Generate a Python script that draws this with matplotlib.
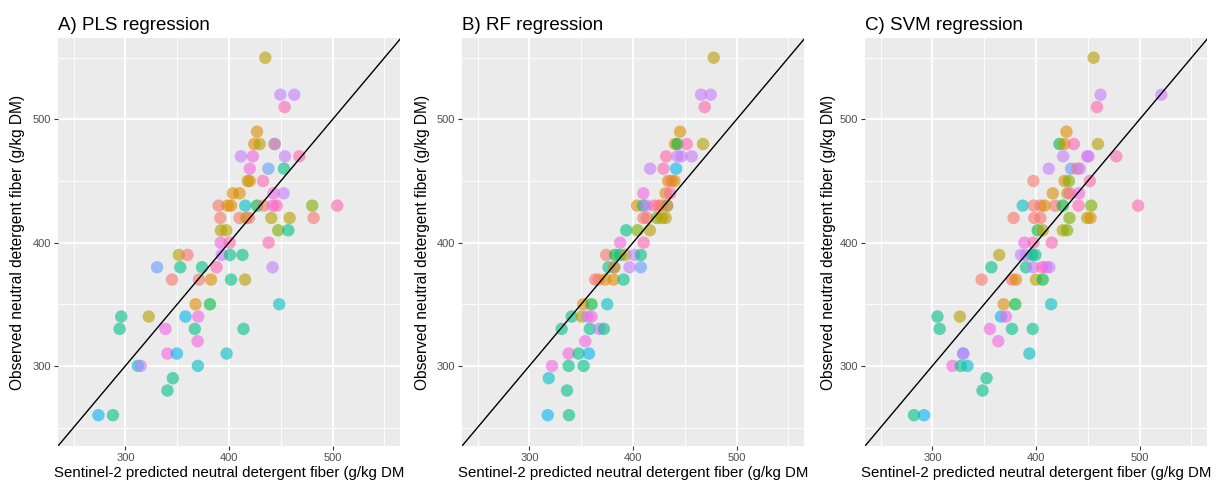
import matplotlib
matplotlib.use("Agg")
import matplotlib.pyplot as plt
from matplotlib.ticker import MultipleLocator

plt.rcParams['font.family'] = ['Liberation Sans', 'DejaVu Sans']

# ggplot hue palette, 12 groups
palette = ['#F8766D', '#DE8C00', '#B79F00', '#7CAE00', '#00BA38', '#00C08B',
           '#00BFC4', '#00B4F0', '#619CFF', '#C77CFF', '#F564E3', '#FF64B0']

titles = ['A) PLS regression', 'B) RF regression', 'C) SVM regression']
xlabel = 'Sentinel-2 predicted neutral detergent fiber (g/kg DM'
ylabel = 'Observed neutral detergent fiber (g/kg DM)'

# ---- A) PLS ----
pls_pred = [435,
            449.5, 463,
            453.7,
            427,
            424.4, 429.6, 444, 444,
            411.5, 423, 454, 467.8,
            420, 438, 453,
            418, 420, 432.8,
            403.8, 410.2, 443, 452.7,
            390, 398.7, 402, 415.7, 427, 433.4, 442.4, 446, 480.3, 504.4,
            391.6, 410.2, 416.7, 419.2, 440.8, 458.5, 481.6,
            392.2, 397.4, 447.5, 457.2,
            392, 400.6, 438.2,
            351.6, 360, 393, 401, 413,
            330.6, 353, 374, 388, 442,
            345, 371, 382.6, 402, 415.5,
            367.7, 381.6, 448.4,
            296, 322.6, 358, 370.3,
            294.5, 338.7, 367, 414,
            369.7,
            340.6, 349.7, 397.7,
            312, 314.8, 370,
            345.8,
            340.6,
            274, 288]
pls_obs = [550,
           520, 520,
           510,
           490,
           480, 480, 480, 480,
           470, 470, 470, 470,
           460, 460, 460,
           450, 450, 450,
           440, 440, 440, 440,
           430, 430, 430, 430, 430, 430, 430, 430, 430, 430,
           420, 420, 420, 420, 420, 420, 420,
           410, 410, 410, 410,
           400, 400, 400,
           390, 390, 390, 390, 390,
           380, 380, 380, 380, 380,
           370, 370, 370, 370, 370,
           350, 350, 350,
           340, 340, 340, 340,
           330, 330, 330, 330,
           320,
           310, 310, 310,
           300, 300, 300,
           290,
           280,
           260, 260]
pls_group = [2,
             9, 9,
             11,
             1,
             1, 2, 2, 9,
             9, 10, 9, 11,
             10, 8, 5,
             2, 1, 11,
             1, 1, 10, 9,
             0, 1, 1, 6, 4, 0, 10, 11, 3, 11,
             0, 0, 2, 0, 2, 2, 0,
             2, 2, 3, 5,
             10, 11, 11,
             2, 0, 9, 5, 5,
             8, 5, 5, 11, 9,
             0, 0, 1, 5, 2,
             1, 4, 6,
             5, 2, 7, 10,
             5, 10, 5, 5,
             10,
             10, 7, 6,
             6, 9, 6,
             5,
             5,
             7, 5]

# ---- B) RF ----
rf_pred = [477.9,
           465.7, 475,
           469.2,
           445.4,
           440.6, 442.9, 451.9, 467.6,
           432, 442.9, 446.8, 456.7,
           416.5, 429.4, 441.6,
           434, 437, 440,
           410, 431.5, 435.8,
           404, 409.8, 412.8, 420.5, 425, 428, 433, 433,
           410.1, 413.5, 423, 428, 431.5,
           393.5, 404.5, 416.3,
           387.6, 410.3,
           374.2, 382.8, 387.6, 392.5, 401.2, 407.6,
           376.4, 381.9, 381.9, 396.7, 407.6,
           363.5, 366.8, 373.2, 381.3, 390.9,
           352, 360, 375.1,
           340.8, 350.5, 356, 360,
           331.1, 358.4, 367.4, 371.9,
           353.9,
           337.9, 347.5, 357.5,
           321.9, 337.9, 352.3,
           318.7,
           336.3,
           317.7, 338.2]
rf_obs = [550,
          520, 520,
          510,
          490,
          480, 480, 480, 480,
          470, 470, 470, 470,
          460, 460, 460,
          450, 450, 450,
          440, 440, 440,
          430, 430, 430, 430, 430, 430, 430, 430,
          420, 420, 420, 420, 420,
          410, 410, 410,
          400, 400,
          390, 390, 390, 390, 390, 390,
          380, 380, 380, 380, 380,
          370, 370, 370, 370, 370,
          350, 350, 350,
          340, 340, 340, 340,
          330, 330, 330, 330,
          320,
          310, 310, 310,
          300, 300, 300,
          290,
          280,
          260, 260]
rf_group = [2,
            9, 9,
            11,
            1,
            1, 4, 11, 2,
            11, 9, 9, 9,
            9, 11, 7,
            1, 0, 1,
            10, 1, 11,
            1, 5, 9, 11, 0, 0, 9, 2,
            0, 0, 3, 2, 2,
            5, 3, 2,
            10, 11,
            0, 4, 5, 2, 9, 5,
            5, 9, 2, 9, 8,
            0, 0, 1, 1, 5,
            1, 4, 6,
            5, 2, 9, 10,
            5, 5, 9, 5,
            10,
            10, 5, 7,
            10, 5, 5,
            6,
            5,
            7, 5]

# ---- C) SVM ----
svm_pred = [455.6,
            462.3, 521,
            458.8,
            429.4,
            422.7, 427.5, 436.5, 459.8,
            426.2, 449.4, 450.7, 477.5,
            412.3, 433.9, 439.8, 442.3,
            397.5, 427.5, 431.7, 452,
            416.2, 430.3, 432.6, 441.5,
            387.2, 397.8, 404.3, 408.2, 418.5, 425.9, 441, 453.3, 498.5,
            378.4, 398.4, 404.3, 432.3, 449.4, 452.6,
            401.7, 406.5, 425.9, 430,
            388.8, 397.6, 415.2,
            364.5, 385.5, 390.3, 396.1, 399.4,
            357, 390.3, 397.4, 405.8, 409.7, 412.9,
            347.5, 376.8, 380.7, 400, 406.5,
            368.7, 380, 414.6,
            304.9, 326.5, 366.2, 371,
            307.1, 355.5, 376.8, 396.8,
            363.6,
            329.7, 329.7, 393.6,
            319.4, 327.5, 333.9,
            352.3,
            348.4,
            282.3, 292]
svm_obs = [550,
           520, 520,
           510,
           490,
           480, 480, 480, 480,
           470, 470, 470, 470,
           460, 460, 460, 460,
           450, 450, 450, 450,
           440, 440, 440, 440,
           430, 430, 430, 430, 430, 430, 430, 430, 430,
           420, 420, 420, 420, 420, 420,
           410, 410, 410, 410,
           400, 400, 400,
           390, 390, 390, 390, 390,
           380, 380, 380, 380, 380, 380,
           370, 370, 370, 370, 370,
           350, 350, 350,
           340, 340, 340, 340,
           330, 330, 330, 330,
           320,
           310, 310, 310,
           300, 300, 300,
           290,
           280,
           260, 260]
svm_group = [2,
             9, 9,
             11,
             1,
             4, 1, 11, 2,
             9, 10, 9, 11,
             9, 8, 0, 9,
             0, 1, 3, 11,
             1, 2, 11, 10,
             6, 0, 0, 1, 0, 4, 11, 3, 11,
             0, 0, 0, 3, 2, 1,
             4, 2, 2, 3,
             10, 11, 11,
             2, 9, 9, 5, 5,
             5, 5, 9, 11, 10, 9,
             0, 0, 1, 2, 4,
             1, 4, 6,
             5, 2, 7, 10,
             5, 10, 5, 5,
             10,
             8, 9, 6,
             10, 5, 6,
             5,
             5,
             5, 7]

panels = [(pls_pred, pls_obs, pls_group),
          (rf_pred, rf_obs, rf_group),
          (svm_pred, svm_obs, svm_group)]

fig = plt.figure(figsize=(12.23, 4.83), dpi=100)
lefts = [58 / 1223, 462 / 1223, 865 / 1223]
ylab_x = [18 / 1223, 423 / 1223, 828 / 1223]

for i, (pred, obs, grp) in enumerate(panels):
    assert len(pred) == len(obs) == len(grp)
    ax = fig.add_axes([lefts[i], 37 / 483, 342 / 1223, 408 / 483])
    ax.set_facecolor('#EBEBEB')
    for s in ax.spines.values():
        s.set_visible(False)
    ax.set_xlim(235, 565)
    ax.set_ylim(235, 566)
    ax.xaxis.set_major_locator(MultipleLocator(100))
    ax.yaxis.set_major_locator(MultipleLocator(100))
    ax.xaxis.set_minor_locator(MultipleLocator(50))
    ax.yaxis.set_minor_locator(MultipleLocator(50))
    ax.grid(which='major', color='white', lw=1.3)
    ax.grid(which='minor', color='white', lw=0.6)
    ax.set_axisbelow(True)
    ax.tick_params(which='major', length=3, width=0.8, color='#333333',
                   labelsize=8, labelcolor='#4D4D4D', pad=2)
    ax.tick_params(which='minor', length=0)

    ax.scatter(pred, obs, c=[palette[g] for g in grp], s=80, alpha=0.6,
               linewidths=0, zorder=2)
    ax.axline((300, 300), slope=1, color='black', lw=1.0, zorder=3)

    ax.set_title(titles[i], loc='left', fontsize=13.5, pad=6)
    ax.set_xlabel(xlabel, fontsize=10.8, labelpad=2)
    fig.text(ylab_x[i], 241 / 483, ylabel, rotation=90, fontsize=11.2,
             ha='center', va='center')

fig.savefig('out.png', dpi=100)
